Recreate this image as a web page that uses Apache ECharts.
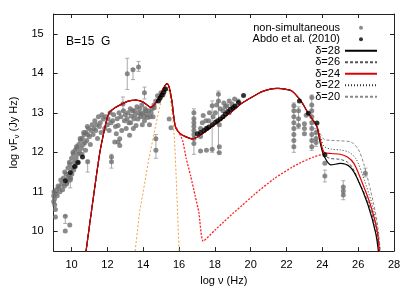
<!DOCTYPE html>
<html>
<head>
<meta charset="utf-8">
<script src="https://cdn.jsdelivr.net/npm/echarts@6/dist/echarts.min.js"></script>
<style>
  html, body { margin: 0; padding: 0; background: #fff; }
  #chart { width: 415px; height: 291px; }
</style>
</head>
<body>
<div id="chart"></div>
<script>
// tick labels
var xTicks = [10, 12, 14, 16, 18, 20, 22, 24, 26, 28];
var yTicks = [10, 11, 12, 13, 14, 15];

// non-simultaneous archival points [log nu, log nuFnu]
var nonSimPts = [
  // radio
  [9.0,10.75],[9.0,10.9],[9.02,11.0],[9.05,10.82],[9.06,10.67],[9.1,10.55],[9.1,10.95],[9.15,11.05],
  [9.2,10.9],[9.25,11.15],[9.3,11.1],[9.35,11.0],[9.4,11.3],[9.45,11.2],[9.5,11.05],[9.55,11.35],
  [9.6,11.15],[9.62,11.5],[9.7,11.45],[9.72,11.2],[9.75,11.25],[9.8,11.6],[9.82,11.35],[9.85,11.4],
  [9.88,11.75],[9.9,11.7],[9.95,11.35],[10.0,11.85],[10.02,11.45],[10.05,11.6],[10.08,12.0],[10.1,11.95],
  [10.12,11.55],[10.15,11.75],[10.2,12.05],[10.22,11.65],[10.25,11.85],[10.28,12.15],[10.3,12.1],
  [10.35,11.95],[10.38,11.75],[10.4,12.2],[10.45,12.0],[10.48,12.35],[10.5,12.3],[10.55,12.1],
  [10.58,11.95],[10.6,12.35],[10.65,12.2],[10.68,12.5],[10.7,12.45],[10.75,12.25],[10.78,12.05],
  [10.8,12.5],[10.85,12.3],[10.88,12.65],[10.9,12.45],[10.95,12.6],[11.0,12.4],[11.05,12.2],[11.1,12.55],
  [11.15,12.7],[11.2,12.45],[11.25,12.6],[11.3,12.8],[11.35,12.55],[11.4,12.7],[11.45,12.35],[11.5,12.9],
  [11.55,12.65],[11.6,12.75],[11.65,12.5],[11.7,12.95],[11.77,12.84],[11.85,12.6],[11.9,12.9],
  // infrared / optical
  [12.0,12.7],[12.04,12.84],[12.1,12.55],[12.15,13.0],[12.2,12.75],[12.3,12.8],[12.35,12.95],[12.41,12.26],
  [12.45,12.65],[12.5,12.47],[12.55,12.85],[12.6,12.68],[12.65,13.0],[12.69,12.34],[12.69,12.17],[12.75,12.9],
  [12.8,12.55],[12.87,13.22],[12.9,13.05],[12.95,12.8],[13.0,12.95],[13.05,12.6],[13.1,12.85],[13.15,13.0],
  [13.2,12.75],[13.24,12.43],[13.28,13.1],[13.3,12.75],[13.33,12.92],[13.4,13.05],[13.45,12.6],[13.48,12.85],
  [13.52,13.05],[13.55,12.95],[13.6,12.68],[13.65,13.15],[13.7,12.84],[13.75,13.0],[13.8,13.1],[13.85,12.9],
  [13.88,12.97],[13.92,13.2],[13.95,12.7],[14.0,13.0],[14.05,12.9],[14.07,12.8],[14.1,13.1],[14.15,13.05],
  [14.2,12.95],[14.25,12.88],[14.3,13.05],[14.35,12.7],[14.4,12.9],[14.44,13.0],[14.5,13.1],[14.55,12.9],
  [14.6,13.2],[14.62,13.13],[14.7,13.3],[14.8,13.43],[14.9,13.35],[14.99,13.51],[15.1,13.45],[15.18,13.59],
  [15.45,12.84],[15.55,12.62],
  [13.11,13.99],[13.43,14.09],[13.74,14.16],[14.07,13.51],[12.23,11.88],[12.23,11.76],[12.6,12.26],
  [10.9,11.76],[9.93,11.3],[9.1,10.36],[9.65,10.38],[9.65,10.01],[9.9,10.16],[14.71,12.34],[14.71,12.05],
  // X-ray
  [16.83,12.22],[16.83,12.35],[16.83,12.45],[16.83,12.55],[16.83,12.65],[16.83,12.75],[16.83,12.85],
  [16.83,13.0],[17.2,12.03],[17.2,12.4],[17.2,12.6],[17.3,12.75],[17.35,12.93],[17.53,12.05],[17.5,12.6],
  [17.5,12.8],[17.66,12.8],[17.7,13.0],[17.85,12.08],[17.85,13.18],[17.9,12.9],[18.03,13.0],[18.1,13.2],
  [18.2,13.47],[18.2,13.3],[18.25,12.14],[18.25,11.99],[18.25,12.7],[18.3,13.1],[18.45,13.05],[18.5,13.25],
  [18.58,13.15],[18.67,13.18],[18.8,13.0],[18.8,13.3],[18.95,13.22],[19.1,13.15],[19.1,13.35],[19.3,13.3],
  // gamma-ray
  [22.41,12.14],[22.41,12.3],[22.41,12.45],[22.41,12.6],[22.41,12.75],[22.41,12.9],[22.41,13.05],
  [22.41,13.18],[22.67,12.68],[22.67,12.85],[22.67,13.05],[23.0,12.47],[23.0,12.6],[23.0,12.72],[23.1,12.94],
  [23.41,12.14],[23.41,12.3],[23.41,12.45],[23.41,12.6],[23.41,12.75],[23.41,12.9],[23.41,13.05],
  [23.41,13.2],[23.41,13.39],[23.65,12.5],[23.65,12.35],[23.65,12.25],[24.14,11.72],[24.14,11.4],
  [25.17,10.92],[25.17,11.02],[25.17,11.12],[26.4,11.47]
];

// Abdo et al. (2010) simultaneous points
var abdoPts = [
  [9.65,11.28],[9.93,11.49],[10.17,11.64],[10.35,11.74],[10.61,11.88],
  [14.85,13.3],[14.95,13.38],[15.05,13.45],[15.15,13.52],[15.25,13.6],
  [17.02,12.47],[17.2,12.5],[17.39,12.55],[17.55,12.6],[17.66,12.64],[17.85,12.7],[18.03,12.76],[18.15,12.8],
  [18.3,12.84],[18.45,12.9],[18.58,12.97],[18.72,13.03],[18.86,13.09],[19.0,13.13],[19.13,13.17],[19.32,13.26],
  [19.6,13.44],[22.72,13.3],[23.22,12.99],[23.7,12.74],[24.14,11.94]
];

// error bars [log nu, low, high]
var errBars = [
  [13.11,13.59,14.38],[13.74,14.05,14.3],[13.43,13.84,14.12],[14.07,13.35,13.65],[12.87,13.05,13.4],
  [16.83,11.95,13.1],[18.2,12.0,13.55],[17.85,12.0,13.3],[22.41,12.0,13.25],[22.67,12.6,13.15],
  [23.41,12.05,13.45],[23.65,12.15,12.6],[24.14,11.25,11.55],[25.17,10.8,11.28],[26.4,11.38,11.6],
  [9.93,11.1,11.35],[10.9,11.5,11.8],[12.23,11.6,11.95],[14.71,11.85,12.45],[9.65,10.2,10.4]
];

// model curves: shared part up to 10^23.7 Hz
var commonX = [10.7,10.81,11.2,11.58,11.8,11.95,12.1,12.4,12.8,13.2,13.6,14.0,14.44,14.7,14.95,15.15,15.32,
  15.45,15.6,15.72,15.82,16.0,16.2,16.5,16.74,17.0,17.3,17.7,18.4,19.0,19.5,20.2,20.6,21.1,21.5,21.9,22.3,
  22.8,23.2,23.5,23.7];
var commonY = [9.1,9.5,10.8,12.0,12.5,12.8,13.0,13.12,13.22,13.3,13.32,13.27,13.14,13.25,13.45,13.63,13.74,
  13.65,13.3,12.85,12.62,12.5,12.43,12.37,12.34,12.38,12.47,12.6,12.84,13.05,13.24,13.43,13.53,13.6,13.62,
  13.6,13.55,13.3,13.0,12.8,12.65];

// high-energy tails for each Doppler factor
var tailX20 = [23.9,24.1,24.5,25.0,25.6,26.0,26.35,26.87,27.1,27.28];
var tailY20 = [12.45,12.33,12.3,12.29,12.26,12.08,11.65,10.68,10.1,9.3];
var tailX22 = [23.9,24.1,24.5,25.0,25.5,25.9,26.3,26.78,27.07,27.25];
var tailY22 = [12.38,12.15,12.08,12.06,12.0,11.82,11.35,10.68,10.05,9.3];
var tailX24 = [23.9,24.1,24.5,25.0,25.4,25.76,26.13,26.68,27.06,27.22];
var tailY24 = [12.3,12.0,11.97,11.95,11.88,11.72,11.34,10.68,10.01,9.3];
var tailX26 = [23.9,24.1,24.4,25.0,25.4,25.7,26.05,26.6,27.02,27.2];
var tailY26 = [12.25,11.95,11.85,11.82,11.75,11.6,11.25,10.68,9.98,9.3];
var tailX28 = [23.9,24.1,24.48,25.0,25.55,25.95,26.54,26.98,27.18];
var tailY28 = [12.2,11.9,11.68,11.72,11.63,11.34,10.68,9.95,9.3];

// accretion disk component (orange dashed)
var diskX = [13.5,13.8,14.0,14.3,14.55,14.8,15.0,15.2,15.35,15.5,15.65,15.75,15.82,15.9,16.02];
var diskY = [9.3,10.5,11.0,11.8,12.35,12.9,13.3,13.55,13.62,13.45,12.85,12.3,11.6,10.7,9.3];

// SSC + EC component (red dashed)
var sscX = [15.75,16.0,16.2,16.4,16.65,16.9,17.1,17.35,18.0,18.5,19.0,19.5,20.2,21.3,22.3,22.8,23.5,24.1];
var sscY = [12.7,12.5,12.3,11.85,11.4,10.9,10.5,9.75,10.03,10.24,10.45,10.65,10.93,11.33,11.62,11.74,11.88,11.96];

function zip(xs, ys) {
  var out = [];
  for (var i = 0; i < xs.length; i++) out.push([xs[i], ys[i]]);
  return out;
}
function model(tx, ty) {
  return zip(commonX, commonY).concat(zip(tx, ty));
}

var font = 'Liberation Sans, Arial, sans-serif';
var chart = echarts.init(document.getElementById('chart'), null, { renderer: 'canvas' });

var axisBase = {
  type: 'value',
  axisLine: { show: true, lineStyle: { color: '#222', width: 1 } },
  axisTick: { show: true, inside: true, length: 4, lineStyle: { color: '#222' } },
  splitLine: { show: false },
  axisLabel: { color: '#000', fontSize: 11, fontFamily: font }
};

// line-series legend entries: hide the centre symbol, keep the line
var noDot = { opacity: 0 };

var option = {
  animation: false,
  backgroundColor: '#fff',
  grid: { left: 50, right: 21, top: 14, bottom: 38 },
  xAxis: [
    Object.assign({}, axisBase, {
      min: 9, max: 28,
      axisTick: Object.assign({}, axisBase.axisTick, { customValues: xTicks }),
      axisLabel: Object.assign({}, axisBase.axisLabel, { customValues: xTicks, margin: 8 }),
      name: 'log ν (Hz)', nameLocation: 'middle', nameGap: 19,
      nameTextStyle: { color: '#000', fontSize: 11, fontFamily: font }
    }),
    Object.assign({}, axisBase, {
      position: 'top', min: 9, max: 28,
      axisTick: Object.assign({}, axisBase.axisTick, { customValues: xTicks }),
      axisLabel: { show: false }
    })
  ],
  yAxis: [
    Object.assign({}, axisBase, {
      min: 9.5, max: 15.5,
      axisTick: Object.assign({}, axisBase.axisTick, { customValues: yTicks }),
      axisLabel: Object.assign({}, axisBase.axisLabel, { customValues: yTicks, margin: 10 }),
      name: 'log νF{s|ν} (Jy Hz)', nameLocation: 'middle', nameGap: 25, nameRotate: 90,
      nameTextStyle: {
        color: '#000', fontSize: 11, fontFamily: font,
        rich: { s: { fontSize: 8, fontFamily: font, color: '#000', padding: [6, 0, 0, 0] } }
      }
    }),
    Object.assign({}, axisBase, {
      position: 'right', min: 9.5, max: 15.5,
      axisTick: Object.assign({}, axisBase.axisTick, { customValues: yTicks }),
      axisLabel: { show: false }
    })
  ],
  legend: {
    orient: 'vertical', align: 'right', right: 32, top: 17,
    itemWidth: 32, itemHeight: 4, itemGap: 0,
    textStyle: { color: '#000', fontSize: 11, fontFamily: font, lineHeight: 11.5 },
    data: [
      'non-simultaneous', 'Abdo et al. (2010)',
      { name: 'δ=28', itemStyle: noDot }, { name: 'δ=26', itemStyle: noDot },
      { name: 'δ=24', itemStyle: noDot }, { name: 'δ=22', itemStyle: noDot },
      { name: 'δ=20', itemStyle: noDot }
    ]
  },
  graphic: [
    { type: 'text', left: 66, top: 36,
      style: { text: 'B=15  G', fontSize: 12, fontFamily: font, fill: '#000' } }
  ],
  series: [
    {
      name: 'errors', type: 'custom', silent: true, z: 1,
      data: errBars,
      renderItem: function (params, api) {
        var x = api.value(0);
        var lo = api.coord([x, api.value(1)]);
        var hi = api.coord([x, api.value(2)]);
        var st = { stroke: '#aaa', lineWidth: 1 };
        return { type: 'group', children: [
          { type: 'line', shape: { x1: lo[0], y1: lo[1], x2: hi[0], y2: hi[1] }, style: st },
          { type: 'line', shape: { x1: lo[0] - 2, y1: lo[1], x2: lo[0] + 2, y2: lo[1] }, style: st },
          { type: 'line', shape: { x1: hi[0] - 2, y1: hi[1], x2: hi[0] + 2, y2: hi[1] }, style: st }
        ] };
      }
    },
    {
      name: 'non-simultaneous', type: 'scatter', data: nonSimPts, z: 2,
      symbol: 'circle', symbolSize: 5, itemStyle: { color: '#6e6e6e' }
    },
    {
      name: 'disk', type: 'line', data: zip(diskX, diskY), z: 3,
      symbol: 'none', lineStyle: { color: '#eba040', width: 1, type: [2, 2] }
    },
    {
      name: 'δ=20', type: 'line', data: model(tailX20, tailY20), z: 4, smooth: 0.3,
      symbol: 'none', itemStyle: { color: '#888' }, lineStyle: { color: '#888', width: 1, type: [3, 2] }
    },
    {
      name: 'δ=22', type: 'line', data: model(tailX22, tailY22), z: 4, smooth: 0.3,
      symbol: 'none', itemStyle: { color: '#333' }, lineStyle: { color: '#333', width: 1, type: [1, 2] }
    },
    {
      name: 'δ=26', type: 'line', data: model(tailX26, tailY26), z: 4, smooth: 0.3,
      symbol: 'none', itemStyle: { color: '#555' }, lineStyle: { color: '#555', width: 1, type: [3, 2] }
    },
    {
      name: 'δ=28', type: 'line', data: model(tailX28, tailY28), z: 5, smooth: 0.3,
      symbol: 'none', itemStyle: { color: '#000' }, lineStyle: { color: '#000', width: 1.2 }
    },
    {
      name: 'ssc', type: 'line', data: zip(sscX, sscY), z: 5, smooth: 0.2,
      symbol: 'none', lineStyle: { color: '#ff2020', width: 1.3, type: [2, 1.5] }
    },
    {
      name: 'δ=24', type: 'line', data: model(tailX24, tailY24), z: 6, smooth: 0.3,
      symbol: 'none', itemStyle: { color: '#e00000' }, lineStyle: { color: '#e00000', width: 1.2 }
    },
    {
      name: 'Abdo et al. (2010)', type: 'scatter', data: abdoPts, z: 7,
      symbol: 'circle', symbolSize: 5, itemStyle: { color: '#000' }
    }
  ]
};

chart.setOption(option);
</script>
</body>
</html>
